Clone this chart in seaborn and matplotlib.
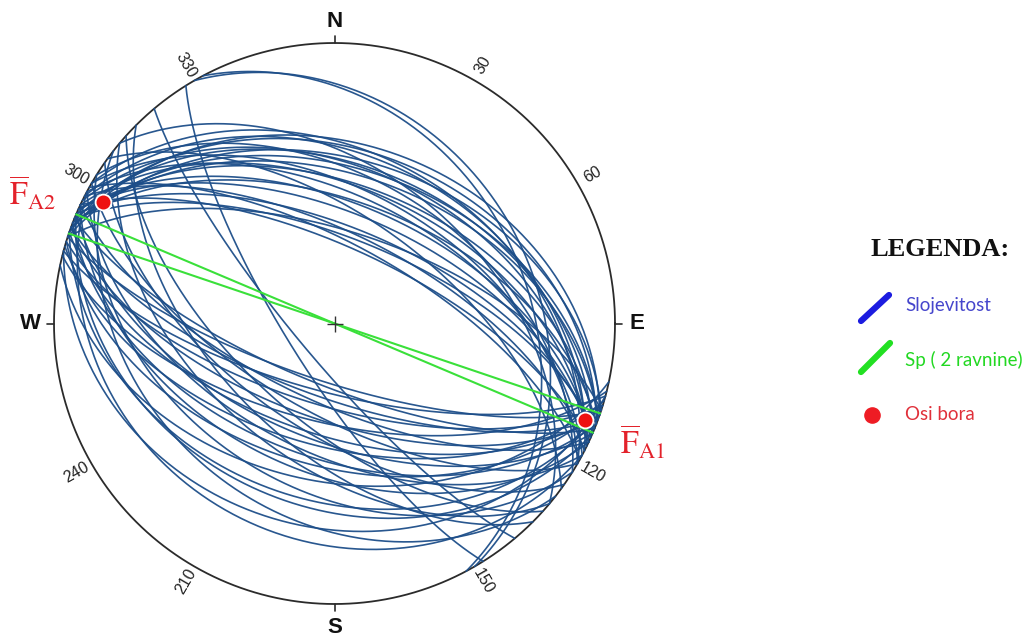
import numpy as np
import pandas as pd
import matplotlib
matplotlib.use("Agg")
import matplotlib.pyplot as plt
import seaborn as sns

# ---------------- data ----------------
# bedding planes (Slojevitost): strike (right-hand rule) and dip, degrees
bed_strike = [330, 332, 289, 291, 300, 288, 293, 296, 290, 302, 292, 295, 298,
              291, 294, 306, 293, 297, 292, 299, 295, 297, 290, 300, 294, 288,
              310,
              108, 112, 105, 110, 115, 107, 120, 110, 104, 125, 109, 113, 106,
              118, 111, 130, 107, 115, 102, 122, 109, 113, 128, 105, 118, 135,
              132, 140, 148]
bed_dip = [29, 32, 36, 38, 39, 41, 43, 44, 46, 47, 49, 50, 53,
           54, 58, 59, 62, 64, 65, 67, 68, 40, 44, 51, 55, 63,
           45,
           73, 72, 70, 68.5, 67, 66, 64, 62, 61, 59, 57.5, 56, 54,
           52.5, 50.5, 50, 48, 46, 43, 41, 37, 35, 32, 28, 24, 55,
           62, 79, 76]

# axial-plane foliation Sp (2 planes)
sp_strike = [112.9, 108.7]
sp_dip = [90, 90]

# fold axes (Osi bora): trend / plunge
axis_trend = [111.1, 297.8]
axis_plunge = [4.8, 7.6]
axis_names = ["A1", "A2"]

dir_labels = ["N", "E", "S", "W"]
dir_az = [0, 90, 180, 270]
deg_ticks = [30, 60, 120, 150, 210, 240, 300, 330]

legend_labels = ["Slojevitost", "Sp ( 2 ravnine)", "Osi bora"]


# ---------------- equal-area (Schmidt) lower-hemisphere projection --------
def project(v):
    e, n, z = v[:, 0], v[:, 1], v[:, 2]
    h = np.hypot(e, n)
    h = np.where(h < 1e-12, 1.0, h)
    r = np.sqrt(np.clip(1.0 + z, 0.0, None))
    return e / h * r, n / h * r


def great_circle(strike, dip, n=241):
    s = np.radians(strike)
    d = np.radians(dip)
    t = np.linspace(0, np.pi, n)
    sv = np.array([np.sin(s), np.cos(s), 0.0])
    dd = s + np.pi / 2
    dv = np.array([np.sin(dd) * np.cos(d), np.cos(dd) * np.cos(d), -np.sin(d)])
    v = np.outer(np.cos(t), sv) + np.outer(np.sin(t), dv)
    return project(v)


def line_point(trend, plunge):
    tr = np.radians(trend)
    pl = np.radians(plunge)
    v = np.array([[np.sin(tr) * np.cos(pl), np.cos(tr) * np.cos(pl), -np.sin(pl)]])
    x, y = project(v)
    return x[0], y[0]


def planes_frame(strikes, dips):
    rows = []
    for i, (s, d) in enumerate(zip(strikes, dips)):
        x, y = great_circle(s, d)
        rows.append(pd.DataFrame({"x": x, "y": y, "plane": i,
                                  "order": np.arange(len(x))}))
    return pd.concat(rows, ignore_index=True)


bed_df = planes_frame(bed_strike, bed_dip)
sp_df = planes_frame(sp_strike, sp_dip)
ax_pts = [line_point(t, p) for t, p in zip(axis_trend, axis_plunge)]
axes_df = pd.DataFrame({"x": [p[0] for p in ax_pts], "y": [p[1] for p in ax_pts],
                        "name": axis_names})

# ---------------- figure ----------------
sns.set_theme(style="white")
plt.rcParams["font.family"] = ["Liberation Sans", "DejaVu Sans"]
plt.rcParams["mathtext.fontset"] = "stix"

fig = plt.figure(figsize=(10.24, 6.41), dpi=100)
fig.patch.set_facecolor("white")
ax = fig.add_axes([54 / 1024, 37 / 641, 561 / 1024, 561 / 641])
ax.set_xlim(-1, 1)
ax.set_ylim(-1, 1)
ax.axis("off")

# primitive circle
th = np.linspace(0, 2 * np.pi, 721)
ax.plot(np.cos(th), np.sin(th), color="#2b2b2b", lw=1.3, zorder=2)

# bedding great circles
sns.lineplot(data=bed_df, x="x", y="y", units="plane", estimator=None,
             sort=False, color="#1d4e89", lw=1.2, alpha=0.95, legend=False,
             ax=ax, zorder=3)
# Sp planes
sns.lineplot(data=sp_df, x="x", y="y", units="plane", estimator=None,
             sort=False, color="#3ae03a", lw=1.5, legend=False, ax=ax, zorder=4)
# fold axes
sns.scatterplot(data=axes_df, x="x", y="y", s=130, color="#ee1111",
                edgecolor="white", linewidth=1.3, legend=False, ax=ax, zorder=6)

for ln in ax.lines:
    ln.set_clip_on(False)
for c in ax.collections:
    c.set_clip_on(False)

# centre cross
ax.plot([0], [0], marker="+", ms=11, mew=1.0, color="#333333", zorder=5)

# cardinal ticks and labels
for lab, az in zip(dir_labels, dir_az):
    a = np.radians(az)
    ax.plot([np.sin(a), 1.025 * np.sin(a)], [np.cos(a), 1.025 * np.cos(a)],
            color="#2b2b2b", lw=1.2, clip_on=False)
    rr = 1.078 if az in (0, 90) else 1.085
    ax.text(rr * np.sin(a), rr * np.cos(a), lab, ha="center", va="center",
            fontsize=16, fontweight="bold", color="#111111")

# degree labels (radial)
for az in deg_ticks:
    a = np.radians(az)
    rot = 90 - az if az < 180 else 270 - az
    ax.text(1.062 * np.sin(a), 1.062 * np.cos(a), str(az), ha="center",
            va="center", rotation=rot, rotation_mode="anchor", fontsize=11.5,
            color="#222222")

# fold axis labels
ax.text(-1.075, 0.462, r"$\overline{\mathrm{F}}_{\mathrm{A2}}$", color="#e3222b",
        fontsize=23, ha="center", va="center")
ax.text(1.10, -0.425, r"$\overline{\mathrm{F}}_{\mathrm{A1}}$", color="#e3222b",
        fontsize=23, ha="center", va="center")

# ---------------- legend (pixel coordinates overlay) ----------------
lax = fig.add_axes([0, 0, 1, 1])
lax.set_xlim(0, 1024)
lax.set_ylim(641, 0)
lax.axis("off")
lax.patch.set_alpha(0)

lax.text(940, 250, "LEGENDA:", ha="center", va="center", fontsize=19,
         fontweight="bold", family=["Liberation Serif", "DejaVu Serif"],
         color="#111111")
lax.plot([861, 889], [321, 295], color="#1c1ce0", lw=4.5, solid_capstyle="round")
lax.text(905, 306, legend_labels[0], ha="left", va="center", fontsize=13.5,
         family=["Lato", "DejaVu Sans"], color="#4646cc")
lax.plot([861, 890], [372, 343], color="#22e022", lw=4.5, solid_capstyle="round")
lax.text(905, 360, legend_labels[1], ha="left", va="center", fontsize=13.5,
         family=["Lato", "DejaVu Sans"], color="#22d822")
lax.scatter([872], [415], s=120, color="#ee1c24", zorder=5)
lax.text(905, 415, legend_labels[2], ha="left", va="center", fontsize=13.5,
         family=["Lato", "DejaVu Sans"], color="#e0303a")

fig.savefig("out.png", dpi=100, facecolor="white")
